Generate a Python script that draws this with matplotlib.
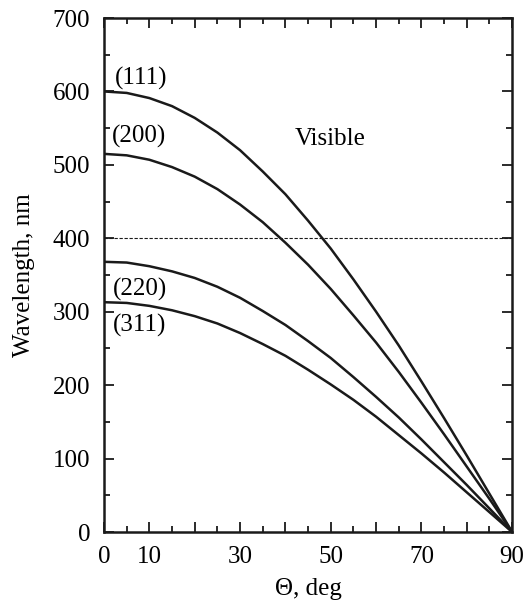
import numpy as np
import matplotlib
matplotlib.use("Agg")
import matplotlib.pyplot as plt
from matplotlib.ticker import MultipleLocator

plt.rcParams['font.family'] = ['Liberation Serif', 'DejaVu Serif']

# angle, deg
theta = [0, 5, 10, 15, 20, 25, 30, 35, 40, 45, 50, 55, 60, 65, 70, 75, 80, 85, 90]

# wavelength, nm
wl_111 = [600, 598, 591, 580, 564, 544, 520, 491, 460, 424, 386, 344, 300, 254, 205, 155, 104, 52, 0]
wl_200 = [515, 513, 507, 497, 484, 467, 446, 422, 394, 364, 331, 295, 258, 218, 176, 133, 89, 45, 0]
wl_220 = [368, 367, 362, 355, 346, 334, 319, 301, 282, 260, 237, 211, 184, 156, 126, 95, 64, 32, 0]
wl_311 = [313, 312, 308, 302, 294, 284, 271, 256, 240, 221, 201, 180, 157, 132, 107, 81, 54, 27, 0]

visible_edge = 400
x_ticks = [0, 10, 30, 50, 70, 90]

fig = plt.figure(figsize=(5.28, 6.03), dpi=100)
ax = fig.add_axes([0.197, 0.1177, 0.773, 0.8524])

for wl in [wl_111, wl_200, wl_220, wl_311]:
    ax.plot(theta, wl, color="#1a1a1a", lw=1.8, solid_joinstyle="round")

ax.axhline(visible_edge, color="#1a1a1a", lw=0.8, dashes=(3, 1.5))

fs = 18
ax.text(2.4, 618, "(111)", fontsize=fs, ha="left", va="center")
ax.text(1.8, 539, "(200)", fontsize=fs, ha="left", va="center")
ax.text(42, 535, "Visible", fontsize=fs, ha="left", va="center")
ax.text(2.0, 330, "(220)", fontsize=fs, ha="left", va="center")
ax.text(2.0, 281, "(311)", fontsize=fs, ha="left", va="center")

ax.set_xlim(0, 90)
ax.set_ylim(0, 700)
ax.yaxis.set_major_locator(MultipleLocator(100))
ax.yaxis.set_minor_locator(MultipleLocator(50))
ax.xaxis.set_minor_locator(MultipleLocator(5))
ax.set_xticks(range(0, 91, 10))
ax.set_xticklabels([str(t) if t in x_ticks else "" for t in range(0, 91, 10)])

ax.tick_params(which="both", direction="in", top=True, right=True,
               labelsize=fs, width=1.3, color="#1a1a1a")
ax.tick_params(which="major", length=7, pad=10)
ax.tick_params(which="minor", length=4)
for s in ax.spines.values():
    s.set_linewidth(1.8)
    s.set_color("#1a1a1a")

ax.set_xlabel("Θ, deg", fontsize=fs, labelpad=7)
ax.set_ylabel("Wavelength, nm", fontsize=fs, labelpad=13)

fig.savefig("out.png", dpi=100)
